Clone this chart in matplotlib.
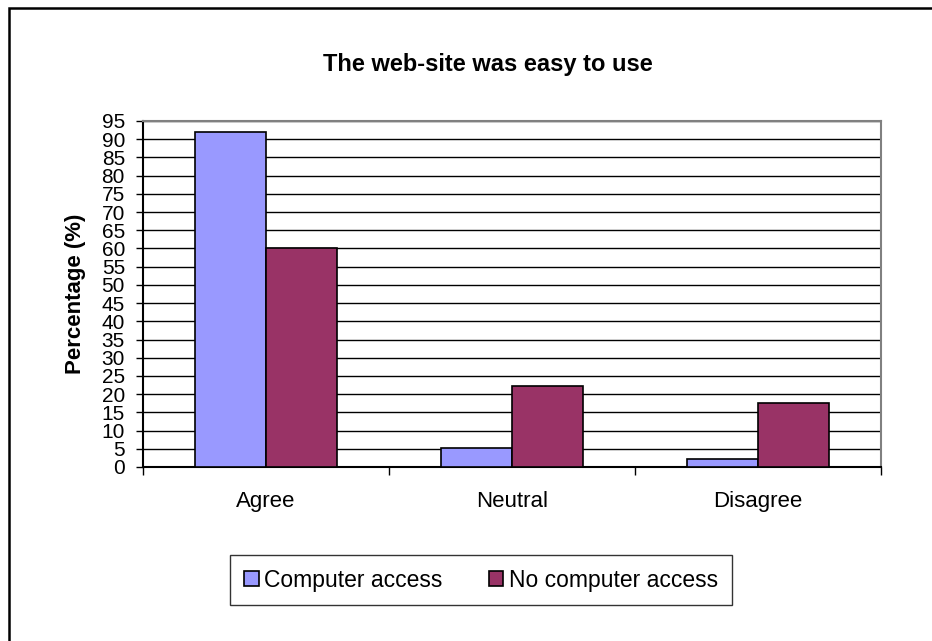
import matplotlib.pyplot as plt
import numpy as np
from matplotlib.patches import Rectangle

plt.rcParams["font.family"] = ["Liberation Sans", "DejaVu Sans"]

categories = ["Agree", "Neutral", "Disagree"]
computer_access = [92, 5.3, 2.3]
no_computer_access = [60, 22.3, 17.7]
y_ticks = list(range(0, 100, 5))

fig = plt.figure(figsize=(9.32, 6.41), dpi=100)
W, H = 932, 641

# outer chart frame (only top/left edges fall inside the image)
fig.add_artist(Rectangle((9 / W, -0.1), 1.2, (641 - 8) / H + 0.1, transform=fig.transFigure,
                         fill=False, edgecolor="black", linewidth=1.8))

ax = fig.add_axes([143 / W, (641 - 467) / H, (881 - 143) / W, (467 - 121) / H])

x = np.arange(len(categories))
w = 0.29
ax.bar(x - w / 2, computer_access, width=w, color="#9999FF", edgecolor="black",
       linewidth=1.2, label="Computer access", zorder=3)
ax.bar(x + w / 2, no_computer_access, width=w, color="#993366", edgecolor="black",
       linewidth=1.2, label="No computer access", zorder=3)

ax.set_xlim(-0.5, 2.5)
ax.set_ylim(0, 95)
ax.set_yticks(y_ticks)
ax.tick_params(axis="y", labelsize=15, length=5, width=1, pad=8)
ax.yaxis.grid(True, color="black", linewidth=1)
ax.set_axisbelow(True)

ax.set_xticks(x)
ax.set_xticklabels(categories, fontsize=16)
ax.tick_params(axis="x", length=0, pad=17)
ax.set_xticks([-0.5, 0.5, 1.5, 2.5], minor=True)
ax.tick_params(axis="x", which="minor", length=6, width=1)

for side in ["left", "bottom"]:
    ax.spines[side].set_linewidth(1.5)
for side in ["right", "top"]:
    ax.spines[side].set_color("#808080")
    ax.spines[side].set_linewidth(1.5)

ax.set_ylabel("Percentage (%)", fontsize=16, fontweight="bold", labelpad=11)
fig.text(488 / W, (641 - 65) / H, "The web-site was easy to use", ha="center", va="center",
         fontsize=17, fontweight="bold")

leg = fig.legend(loc="center", bbox_to_anchor=(481 / W, (641 - 580) / H), ncol=2,
                 fontsize=16.5, frameon=True, fancybox=False, edgecolor="black",
                 handlelength=0.65, handleheight=0.65, handletextpad=0.25,
                 columnspacing=2.0, borderpad=0.6, borderaxespad=0)
leg.get_frame().set_linewidth(1)

fig.savefig("out.png", dpi=100)
